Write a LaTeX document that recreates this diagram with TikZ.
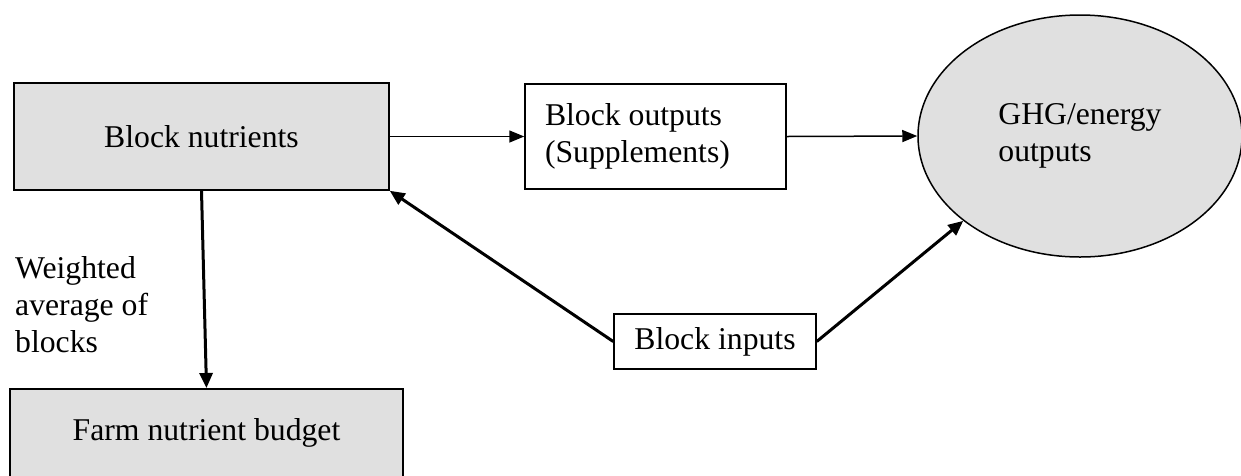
\documentclass[tikz,border=0pt]{standalone}
\usepackage{fontspec}
\setmainfont{Liberation Serif}
\usetikzlibrary{arrows.meta,shapes.geometric}
\definecolor{boxgray}{RGB}{224,224,224}
\begin{document}
\begin{tikzpicture}[x=1pt,y=-1pt,
  every node/.style={font=\fontsize{31.7}{37}\selectfont},
  frame/.style={draw=black,line width=1.5pt,rectangle,inner sep=0pt},
  shaded/.style={frame,fill=boxgray},
  thinarrow/.style={line width=1.5pt,-{Triangle[length=15pt,width=12pt]}},
  thickarrow/.style={line width=3pt,-{Triangle[length=15pt,width=13pt]}},
  note/.style={align=flush left,inner sep=0pt,anchor=north west}]
  \clip (0,0) rectangle (1241,475);

  % boxes
  \node[shaded,minimum width=375pt,minimum height=107pt] (bn) at (201.5,136.5) {Block nutrients};
  \node[frame,text width=221pt,inner xsep=20pt,minimum height=105pt,align=flush left] (bo) at (655.5,136.5)
    {Block outputs\\(Supplements)};
  \node[ellipse,draw=black,line width=1.5pt,fill=boxgray,minimum width=324pt,minimum height=242pt,
        inner sep=0pt,align=flush left] (ell) at (1080,136) {GHG/energy\\outputs};
  \node[shaded,minimum width=393pt,text height=52pt,text depth=55pt,anchor=north] (farm) at (206.5,388)
    {Farm nutrient budget};
  \node[frame,minimum width=202pt,minimum height=55pt] (bi) at (715,341.5) {Block inputs};

  % side label of the downward link
  \node[note] (wavg) at (15,256.4) {Weighted\\average of\\blocks};

  % connectors
  \draw[thinarrow] (bn.east) -- (bo.west);
  \draw[thinarrow] (bo.east) -- (ell.west);
  \draw[thickarrow] (bn.south) -- (farm.north);
  \draw[thickarrow] (bi.west) -- (bn.south east);
  \draw[thickarrow] (bi.east) -- (ell.216);
\end{tikzpicture}
\end{document}
